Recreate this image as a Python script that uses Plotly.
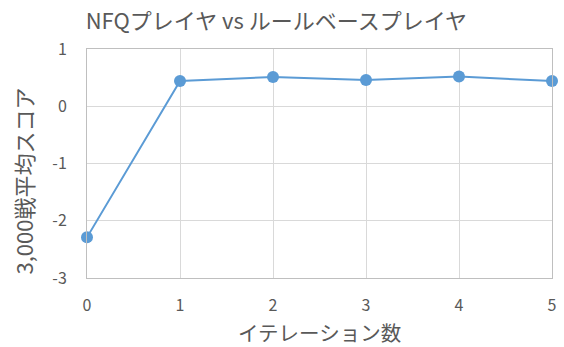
import plotly.graph_objects as go

iterations = [0, 1, 2, 3, 4, 5]
scores = [-2.29, 0.44, 0.51, 0.46, 0.52, 0.44]
y_ticks = [-3, -2, -1, 0, 1]
x_ticks = [0, 1, 2, 3, 4, 5]

title_text = "NFQプレイヤ vs ルールベースプレイヤ"
x_title = "イテレーション数"
y_title = "3,000戦平均スコア"

font_family = "Noto Sans CJK JP"
text_color = "#595959"

fig = go.Figure()
fig.add_trace(go.Scatter(
    x=iterations, y=scores, mode="lines+markers",
    line=dict(color="#5b9bd5", width=2),
    marker=dict(color="#5b9bd5", size=12),
    cliponaxis=False,
))

fig.update_layout(
    width=564, height=347,
    margin=dict(l=87, r=12, t=49, b=69, autoexpand=False),
    paper_bgcolor="white", plot_bgcolor="white",
    showlegend=False,
    font=dict(family=font_family, color=text_color),
    title=dict(text=title_text, x=0.49, xanchor="center", y=1 - 21 / 347, yanchor="middle",
               font=dict(size=22, color=text_color, family=font_family)),
    annotations=[
        dict(text=x_title, xref="paper", yref="paper", x=0.5, y=-54 / 229,
             xanchor="center", yanchor="middle", showarrow=False,
             font=dict(size=20.5, color=text_color, family=font_family)),
        dict(text=y_title, xref="paper", yref="paper", x=(22.5 - 87) / 465, y=(278 - 181) / 229,
             xanchor="center", yanchor="middle", showarrow=False, textangle=-90,
             font=dict(size=22, color=text_color, family=font_family)),
    ],
)
fig.update_xaxes(
    range=[0, 5], tickvals=x_ticks, ticktext=[str(v) for v in x_ticks],
    showgrid=True, gridcolor="#d9d9d9", gridwidth=1,
    showline=True, linecolor="#bfbfbf", linewidth=1, mirror=True,
    zeroline=False, ticks="", ticklabelstandoff=13,
    tickfont=dict(size=16, color=text_color),
)
fig.update_yaxes(
    range=[-3, 1], tickvals=y_ticks, ticktext=[str(v) for v in y_ticks],
    showgrid=True, gridcolor="#d9d9d9", gridwidth=1,
    showline=True, linecolor="#bfbfbf", linewidth=1, mirror=True,
    zeroline=False, ticks="", ticklabelstandoff=16,
    tickfont=dict(size=16, color=text_color),
)

fig.write_html("out.html")
